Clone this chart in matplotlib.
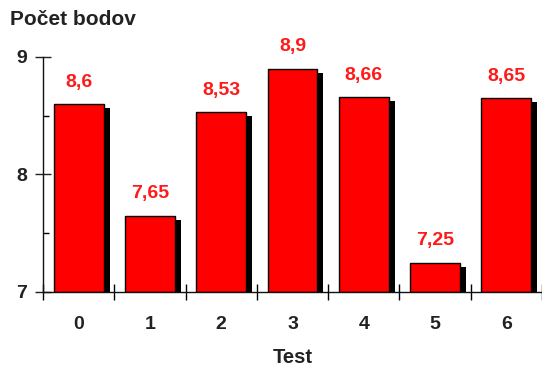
import numpy as np
import matplotlib.pyplot as plt
from matplotlib.transforms import ScaledTranslation
from matplotlib.ticker import MultipleLocator

plt.rcParams['font.family'] = ['Liberation Sans', 'DejaVu Sans']

testy = [0, 1, 2, 3, 4, 5, 6]
body = [8.6, 7.65, 8.53, 8.9, 8.66, 7.25, 8.65]
popisky = ["8,6", "7,65", "8,53", "8,9", "8,66", "7,25", "8,65"]

fig = plt.figure(figsize=(5.42, 3.67), dpi=100)
ax = fig.add_axes([0.0793, 0.2044, 0.9207, 0.6403])

x = np.array(testy)
y = np.array(body)
spodok = 7

# tien stlpcov - posunuty doprava a dole
posun = ax.transData + ScaledTranslation(6 / 100, -4 / 100, fig.dpi_scale_trans)
ax.bar(x, y - spodok, bottom=spodok, width=0.7, color='black',
       transform=posun, zorder=1)
ax.bar(x, y - spodok, bottom=spodok, width=0.7, color='#ff0000',
       edgecolor='black', linewidth=1.0, zorder=2)

for xi, yi, t in zip(x, y, popisky):
    ax.annotate(t, (xi, yi), xytext=(0, 12.5), textcoords='offset points',
                ha='center', va='baseline', color='#ff1a1a',
                fontsize=14, fontweight='bold', annotation_clip=False)

ax.set_xlim(-0.5, 6.5)
ax.set_ylim(7, 9)

ax.spines['top'].set_visible(False)
ax.spines['right'].set_visible(False)
for s in ['left', 'bottom']:
    ax.spines[s].set_linewidth(1.0)
    ax.spines[s].set_color('#111111')

ax.set_yticks([7, 8, 9])
ax.yaxis.set_minor_locator(MultipleLocator(0.5))
ax.tick_params(axis='y', which='major', direction='inout', length=11,
               width=1.0, labelsize=14, pad=6, colors='#222222')
ax.tick_params(axis='y', which='minor', direction='in', length=4, width=1.0)
for lbl in ax.get_yticklabels():
    lbl.set_fontweight('bold')

# ciarky na osi x medzi testami, popisky v stredoch
ax.set_xticks(np.arange(-0.5, 7.0, 1.0))
ax.set_xticklabels([])
ax.set_xticks(x, minor=True)
ax.set_xticklabels([str(t) for t in testy], minor=True,
                   fontsize=14, fontweight='bold', color='#222222')
ax.tick_params(axis='x', which='major', direction='inout', length=11,
               width=1.0)
ax.tick_params(axis='x', which='minor', length=0, pad=17)

ax.set_xlabel('Test', fontsize=14.5, fontweight='bold', color='#222222',
              labelpad=11)
fig.text(0.018, 0.947, 'Počet bodov', fontsize=15, fontweight='bold',
         color='#222222', ha='left', va='center')

fig.savefig('out.png', dpi=100)
